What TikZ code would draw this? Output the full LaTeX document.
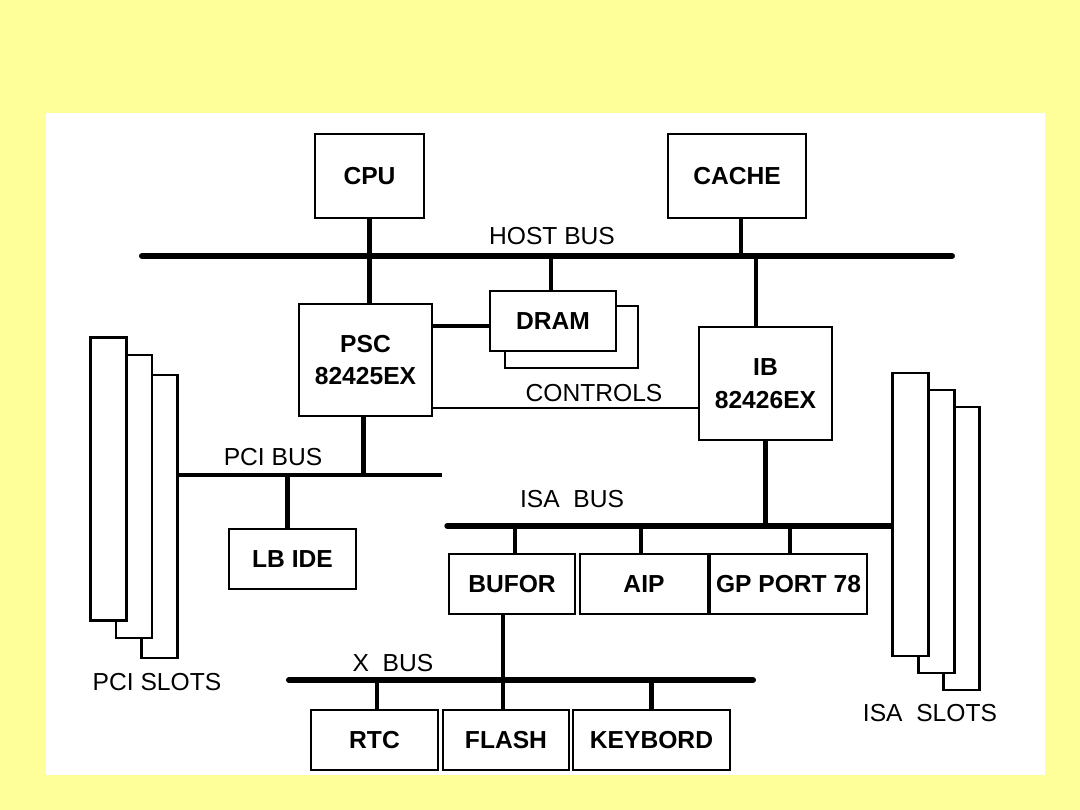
\documentclass[tikz,border=0pt]{standalone}
\usepackage{fontspec}
\setmainfont{Liberation Sans}
\usetikzlibrary{calc}
\definecolor{slidebg}{HTML}{FFFF99}

\begin{document}
\begin{tikzpicture}[x=0.025cm,y=-0.025cm]
        \tikzset{
          box/.style 2 args={draw, line width=2.1pt, fill=white, inner sep=0pt, align=center,
            minimum width=#1*0.025cm, minimum height=#2*0.025cm,
            font=\fontsize{17.5}{23}\selectfont\bfseries},
          slot/.style={draw, line width=1.8pt, fill=white, inner sep=0pt,
            minimum width=36*0.025cm, minimum height=283*0.025cm},
          bus/.style={line width=4.3pt, line cap=round},
          conn/.style={line width=3.5pt},
          lbl/.style={font=\fontsize{17.5}{21}\selectfont, inner sep=0pt}
        }
        % slide background
        \fill[slidebg] (0,0) rectangle (1080,810);
        \useasboundingbox (0,0) rectangle (1080,810);
        \fill[white] (46,113) rectangle (1045,775);

        % bus end points
        \coordinate (hostL) at (142,256);
        \coordinate (hostR) at (952,256);
        \coordinate (ibtap) at (756,256);
        \coordinate (pciR) at (442,475);
        \coordinate (isaL) at (447,526);
        \coordinate (xL) at (289,680);
        \coordinate (xR) at (753,680);
        \coordinate (xtap) at (503,680);

        % top row
        \node[box={109}{84}] (cpu) at (369.5,176) {CPU};
        \node[box={138}{84}] (cache) at (737,176) {CACHE};
        \node[box={133}{112}] (psc) at (365.5,360) {PSC\\82425EX};
        \node[box={133}{62}] (dram2) at (571.5,337) {};
        \node[box={126}{60}] (dram) at (553,321) {DRAM};
        \node[box={133}{113}] (ib) at (765.5,383.5) {IB\\82426EX};

        % pci side
        \node[slot] (pci3) at (159.5,516.5) {};
        \node[slot] (pci2) at (134,496.5) {};
        \node[slot] (pci1) at (108.5,479) {};
        \node[box={127}{60}] (lbide) at (292.5,559) {LB IDE};

        % isa side
        \node[slot] (isa3) at (961.5,548.5) {};
        \node[slot] (isa2) at (936.5,531.5) {};
        \node[slot] (isa1) at (910.5,514.5) {};
        \node[box={126}{60}] (bufor) at (512,584) {BUFOR};
        \node[box={128}{60}] (aip) at (644,584) {AIP};
        \node[box={157}{60}] (gpport) at (788.5,584) {GP PORT 78};
        \node[box={127}{60}] (rtc) at (374.5,740) {RTC};
        \node[box={126}{60}] (flash) at (506,740) {FLASH};
        \node[box={157}{60}] (keybord) at (651.5,740) {KEYBORD};

        % buses
        \draw[bus] (hostL) -- (hostR);
        \draw[bus, line width=2.8pt, line cap=butt] (pci3.east |- pciR) -- (pciR);
        \draw[bus, line width=3.8pt] (isaL) -- (isa1.west |- isaL);
        \draw[bus] (xL) -- (xR);

        % connectors
        \draw[conn] (cpu.south) -- (psc.north -| cpu.south);
        \draw[conn] (cache.south) ++(4,0) -- ($(cache.south |- hostL)+(4,0)$);
        \draw[conn] (ibtap) -- (ibtap |- ib.north);
        \draw[conn] (dram.north) ++(-2,0) -- ($(dram.north |- hostL)+(-2,0)$);
        \draw[conn] ($(dram.west)+(0,5)$) -- ($(dram.west -| psc.east)+(0,5)$);
        \draw[line width=1.4pt] ($(psc.south east)+(0,-9)$) -- ($(ib.west |- psc.south)+(0,-9)$);
        \draw[conn] ($(psc.south)+(-2,0)$) -- ($(psc.south |- pciR)+(-2,0)$);
        \draw[conn] ($(lbide.north)+(-5,0)$) -- ($(lbide.north |- pciR)+(-5,0)$);
        \draw[conn] (ib.south) -- (ib.south |- isaL);
        \draw[conn] ($(bufor.north)+(3,0)$) -- ($(bufor.north |- isaL)+(3,0)$);
        \draw[conn] ($(aip.north)+(-3,0)$) -- ($(aip.north |- isaL)+(-3,0)$);
        \draw[conn] ($(gpport.north)+(1.5,0)$) -- ($(gpport.north |- isaL)+(1.5,0)$);
        \draw[conn] (xtap |- bufor.south) -- (xtap |- flash.north);
        \draw[conn] ($(rtc.north)+(2.5,0)$) -- ($(rtc.north |- xL)+(2.5,0)$);
        \draw[conn] (keybord.north) -- (keybord.north |- xL);

        % labels
        \node[lbl] (hostlbl) at (552,236) {HOST BUS};
        \node[lbl] (ctrllbl) at (594,393) {CONTROLS};
        \node[lbl] (pcilbl) at (273,457) {PCI BUS};
        \node[lbl] (isalbl) at (572,499) {ISA\ \ BUS};
        \node[lbl] (xlbl) at (393,663) {X\ \ BUS};
        \node[lbl] (pcislots) at (157,682) {PCI SLOTS};
        \node[lbl] (isaslots) at (930,713) {ISA\ \ SLOTS};
\end{tikzpicture}
\end{document}
